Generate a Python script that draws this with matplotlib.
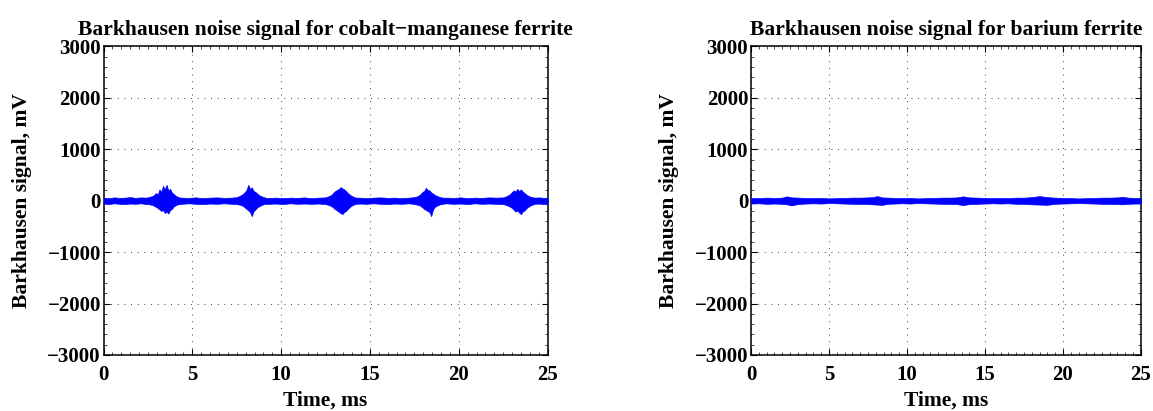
import matplotlib
matplotlib.use("Agg")
import matplotlib.pyplot as plt
from matplotlib.ticker import MultipleLocator

plt.rcParams['font.family'] = ['Liberation Serif', 'DejaVu Serif']
plt.rcParams['font.weight'] = 'bold'
plt.rcParams['axes.titleweight'] = 'bold'
plt.rcParams['axes.labelweight'] = 'bold'

# Cobalt-manganese ferrite: envelope of the Barkhausen noise trace
com_time = [
    0, 0.3, 0.6, 0.9, 1.2, 1.5, 1.8, 2.1, 2.4,
    2.6, 2.8, 2.95, 3.05, 3.15, 3.25, 3.35, 3.45, 3.55, 3.65, 3.75, 3.85, 3.95, 4.1, 4.25,
    4.4, 4.8, 5.2, 5.6, 6.0, 6.4, 6.8, 7.2,
    7.5, 7.7, 7.85, 7.95, 8.05, 8.15, 8.25, 8.35, 8.45, 8.55, 8.65, 8.8, 8.95, 9.1,
    9.3, 9.7, 10.1, 10.5, 10.9, 11.3, 11.7, 12.1,
    12.5, 12.7, 12.85, 12.95, 13.05, 13.15, 13.25, 13.35, 13.45, 13.55, 13.65, 13.75, 13.9, 14.05, 14.2,
    14.4, 14.8, 15.2, 15.6, 16.0, 16.4, 16.8, 17.2,
    17.5, 17.7, 17.85, 17.95, 18.05, 18.15, 18.25, 18.35, 18.45, 18.55, 18.65, 18.8, 18.95, 19.1,
    19.3, 19.7, 20.1, 20.5, 20.9, 21.3, 21.7, 22.1,
    22.5, 22.7, 22.85, 23.0, 23.1, 23.2, 23.3, 23.4, 23.5, 23.6, 23.7, 23.8, 23.95, 24.1, 24.3,
    24.5, 24.8, 25.0,
]
com_upper = [
    60, 50, 65, 55, 60, 70, 55, 65, 60,
    75, 100, 150, 120, 220, 170, 290, 220, 310, 200, 230, 160, 130, 90, 65,
    60, 55, 65, 50, 60, 65, 55, 60,
    70, 100, 130, 170, 210, 310, 230, 260, 190, 170, 140, 100, 80, 60,
    55, 60, 50, 60, 55, 65, 50, 60,
    65, 90, 120, 160, 190, 210, 230, 265, 240, 220, 190, 150, 110, 80, 60,
    60, 50, 60, 65, 55, 60, 50, 60,
    70, 90, 130, 170, 190, 250, 210, 200, 160, 140, 110, 90, 70, 60,
    60, 55, 65, 50, 60, 55, 65, 60,
    65, 90, 120, 170, 200, 180, 230, 190, 220, 180, 150, 120, 90, 70, 60,
    65, 55, 60,
]
com_lower = [
    -55, -65, -50, -60, -65, -55, -60, -50, -65,
    -70, -90, -120, -140, -170, -200, -180, -240, -210, -250, -180, -160, -110, -80, -65,
    -60, -50, -60, -65, -55, -60, -50, -60,
    -65, -80, -100, -130, -160, -190, -220, -300, -200, -170, -130, -100, -75, -60,
    -60, -55, -65, -50, -60, -55, -60, -55,
    -65, -85, -110, -140, -170, -190, -220, -240, -260, -220, -200, -160, -110, -80, -60,
    -55, -60, -50, -60, -65, -55, -60, -50,
    -65, -80, -100, -130, -160, -180, -200, -220, -300, -170, -120, -90, -70, -60,
    -50, -60, -55, -65, -50, -60, -55, -60,
    -65, -85, -110, -140, -180, -210, -190, -230, -260, -210, -190, -150, -110, -80, -60,
    -55, -65, -60,
]

# Barium ferrite: envelope of the Barkhausen noise trace
ba_time = [
    0, 0.5, 1.0, 1.5, 2.0, 2.3, 2.6, 3.0, 3.5, 4.0, 4.5, 5.0, 5.5, 6.0, 6.5,
    7.0, 7.5, 7.8, 8.1, 8.4, 8.8, 9.2, 9.7, 10.2, 10.7, 11.2, 11.7, 12.2, 12.7,
    13.2, 13.6, 14.0, 14.5, 15.0, 15.5, 16.0, 16.5, 17.0, 17.5, 18.0, 18.5, 19.0,
    19.5, 20.0, 20.5, 21.0, 21.5, 22.0, 22.5, 23.0, 23.5, 23.8, 24.2, 24.6, 25.0,
]
ba_upper = [
    55, 50, 60, 55, 60, 85, 65, 60, 55, 50, 55, 45, 50, 55, 60,
    60, 65, 70, 90, 65, 60, 55, 50, 55, 45, 50, 55, 60, 60,
    65, 85, 65, 60, 55, 50, 55, 50, 60, 60, 70, 90, 70,
    60, 55, 50, 45, 50, 55, 60, 60, 65, 75, 60, 55, 55,
]
ba_lower = [
    -55, -50, -60, -55, -60, -70, -90, -65, -55, -50, -55, -45, -50, -55, -60,
    -60, -65, -70, -75, -80, -60, -55, -50, -55, -45, -50, -55, -60, -60,
    -65, -85, -65, -60, -55, -50, -55, -50, -60, -60, -70, -75, -80,
    -60, -55, -50, -45, -50, -55, -60, -60, -65, -70, -60, -55, -55,
]

time_ticks = [0, 5, 10, 15, 20, 25]
signal_ticks = [-3000, -2000, -1000, 0, 1000, 2000, 3000]

panels = [
    ("Barkhausen noise signal for cobalt\u2212manganese ferrite",
     com_time, com_upper, com_lower),
    ("Barkhausen noise signal for barium ferrite",
     ba_time, ba_upper, ba_lower),
]
axes_rects = [
    [0.0898, 0.1363, 0.3851, 0.7506],
    [0.6513, 0.1363, 0.3382, 0.7506],
]

fig = plt.figure(figsize=(11.53, 4.11), dpi=100)
fs = 15.5

for (title, t, hi, lo), rect in zip(panels, axes_rects):
    ax = fig.add_axes(rect)
    ax.fill_between(t, lo, hi, color=(0, 0, 1), linewidth=0.5, zorder=3)
    ax.set_xlim(time_ticks[0], time_ticks[-1])
    ax.set_ylim(signal_ticks[0], signal_ticks[-1])
    ax.set_xticks(time_ticks)
    ax.set_yticks(signal_ticks)
    ax.xaxis.set_minor_locator(MultipleLocator(0.5))
    ax.yaxis.set_minor_locator(MultipleLocator(200))
    ax.grid(True, which='major', color='black', linestyle=(0, (1, 7)),
            linewidth=0.6, zorder=1)
    ax.tick_params(which='major', direction='in', top=True, right=True,
                   length=4, width=0.8, labelsize=15)
    ax.tick_params(axis='x', which='major', pad=7)
    ax.tick_params(axis='y', which='major', pad=2)
    ax.tick_params(which='minor', direction='in', top=True, right=True,
                   length=2, width=0.5)
    for s in ax.spines.values():
        s.set_linewidth(1.1)
    ax.set_title(title, fontsize=fs, pad=8)
    ax.set_xlabel("Time, ms", fontsize=fs, labelpad=4)
    ax.set_ylabel("Barkhausen signal, mV", fontsize=fs, labelpad=11)

fig.savefig("out.png", dpi=100)
